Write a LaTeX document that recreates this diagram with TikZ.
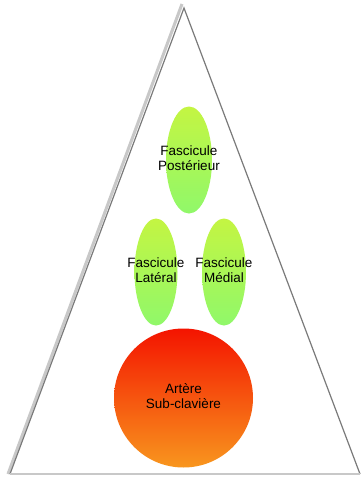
\documentclass[tikz,border=0pt]{standalone}
\usepackage{fontspec}
\setmainfont{Liberation Sans}
\usetikzlibrary{shapes.geometric}
\newcommand{\ctext}[1]{\makebox[0pt]{\begin{tabular}{@{}c@{}}#1\end{tabular}}}
\begin{document}
\begin{tikzpicture}[x=1pt,y=-1pt,
  fasc/.style={ellipse, top color=green1, bottom color=green2, minimum width=46pt, minimum height=107pt, inner sep=0pt, font=\fontsize{13.5}{16}\selectfont},
  artere/.style={circle, top color=red1, bottom color=orange1, minimum size=139pt, inner sep=0pt, font=\fontsize{13.5}{16}\selectfont}]
\definecolor{green1}{HTML}{C4F542}
\definecolor{green2}{HTML}{90F86A}
\definecolor{red1}{HTML}{F41400}
\definecolor{orange1}{HTML}{F8961E}
\definecolor{edge}{HTML}{7A7A7A}
\definecolor{shadowc}{HTML}{C8C8C8}
\useasboundingbox (0,0) rectangle (363,477);
\fill[white] (0,0) rectangle (363,477);
\coordinate (apex) at (184,8);
\coordinate (bl) at (10,474);
\coordinate (br) at (360,474);
\draw[shadowc, line width=3pt] ([xshift=-2pt,yshift=4pt]apex) -- ([xshift=-2pt]bl);
\draw[edge, line width=1.2pt, line join=miter] (bl) -- (apex) -- (br);
\draw[shadowc, line width=1.2pt] (bl) -- (br);
\node[fasc] (post) at (189,160) {\raisebox{4pt}{\ctext{Fascicule\\[-1pt]Postérieur}}};
\node[fasc, minimum width=43pt] (lat) at (156,272) {\raisebox{4pt}{\ctext{Fascicule\\[-1pt]Latéral}}};
\node[fasc, minimum width=44pt] (med) at (224,272) {\raisebox{4pt}{\ctext{Fascicule\\[-1pt]Médial}}};
\node[artere] (art) at (183.5,398) {\ctext{Artère\\[-1pt]Sub-clavière}};
\end{tikzpicture}
\end{document}
